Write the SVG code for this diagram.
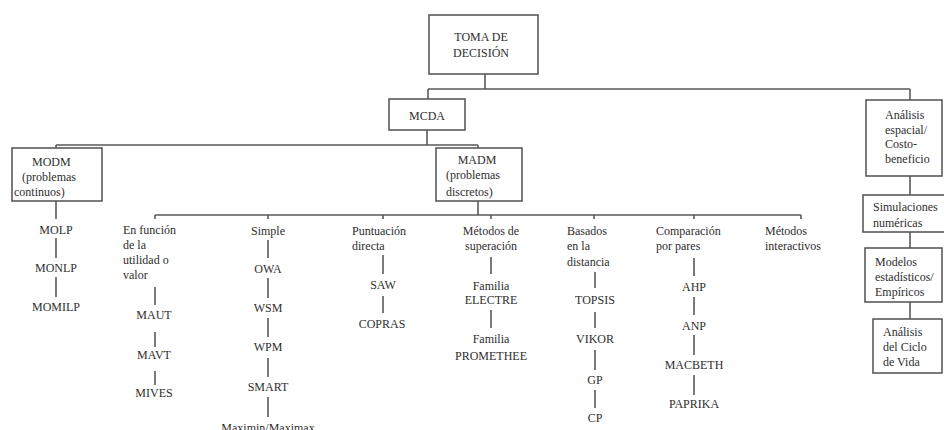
<svg xmlns="http://www.w3.org/2000/svg" width="944" height="430" viewBox="0 0 944 430">
<style>
text{font-family:"Liberation Serif","Times New Roman",serif;font-size:12px;fill:#2e2e2e}
.c{text-anchor:middle}
.box{fill:#fff;stroke:#5a5a5a;stroke-width:1.6}
.ln{fill:none;stroke:#5a5a5a;stroke-width:1.6}
</style>
<rect width="944" height="430" fill="#fff"/>
<g id="connectors" class="ln">
<path d="M485 74V89M428 89H910M428 89V99M910 89V100"/>
<path d="M427 130V145M56 145H478M56 145V148M478 145V148"/>
<path d="M478 201V215M155 215H801M155 215V219M268 215V219M383 215V219M491 215V219M594 215V219M694 215V219M801 215V219"/>
<path d="M910 176V195M910 232V248M910 302V319"/>
<path d="M56 201V219M56 238V258M56 277V297"/>
<path d="M155 287V305M155 332V347M155 371V385"/>
<path d="M268 240V258M268 278V298M268 318V337M268 358V377M268 397V417"/>
<path d="M383 255V274M383 296V313"/>
<path d="M491 257V274M491 310V328"/>
<path d="M595 272V288M595 312V328M595 350V370M595 390V408"/>
<path d="M694 258V276M694 297V315M694 335V355M694 375V395"/>
</g>
<g id="toma"><rect class="box" x="429" y="15" width="109" height="59"/><text class="c" x="481" y="41">TOMA DE</text><text class="c" x="481" y="57">DECISIÓN</text></g>
<g id="mcda"><rect class="box" x="389" y="99" width="76" height="31"/><text class="c" x="427" y="120">MCDA</text></g>
<g id="modm"><rect class="box" x="12" y="148" width="90" height="53"/><text x="32" y="166">MODM</text><text x="22" y="181">(problemas</text><text x="14" y="196">continuos)</text></g>
<g id="madm"><rect class="box" x="436" y="148" width="86" height="53"/><text class="c" x="477" y="164">MADM</text><text x="446" y="179">(problemas</text><text x="446" y="196">discretos)</text></g>
<g id="analisis"><rect class="box" x="866" y="100" width="76" height="76"/><text x="885" y="119">Análisis</text><text x="885" y="134">espacial/</text><text x="885" y="148">Costo-</text><text x="885" y="163">beneficio</text></g>
<g id="simulaciones"><rect class="box" x="863" y="195" width="90" height="37"/><text x="873" y="211">Simulaciones</text><text x="873" y="227">numéricas</text></g>
<g id="modelos"><rect class="box" x="865" y="248" width="77" height="54"/><text x="875" y="266">Modelos</text><text x="875" y="281">estadísticos/</text><text x="875" y="296">Empíricos</text></g>
<g id="ciclo"><rect class="box" x="873" y="319" width="69" height="54"/><text x="883" y="336">Análisis</text><text x="883" y="351">del Ciclo</text><text x="883" y="366">de Vida</text></g>
<g id="molp"><text class="c" x="56" y="234">MOLP</text></g>
<g id="monlp"><text class="c" x="56" y="272">MONLP</text></g>
<g id="momilp"><text class="c" x="56" y="311">MOMILP</text></g>
<g id="utilidad"><text x="123" y="234">En función</text><text x="123" y="249">de la</text><text x="123" y="264">utilidad o</text><text x="123" y="279">valor</text></g>
<g id="maut"><text class="c" x="154" y="319">MAUT</text></g>
<g id="mavt"><text class="c" x="154" y="359">MAVT</text></g>
<g id="mives"><text class="c" x="154" y="397">MIVES</text></g>
<g id="simple"><text class="c" x="268" y="235">Simple</text></g>
<g id="owa"><text class="c" x="268" y="273">OWA</text></g>
<g id="wsm"><text class="c" x="268" y="312">WSM</text></g>
<g id="wpm"><text class="c" x="268" y="351">WPM</text></g>
<g id="smart"><text class="c" x="268" y="391">SMART</text></g>
<g id="maximin"><text class="c" x="268" y="432">Maximin/Maximax</text></g>
<g id="puntuacion"><text x="352" y="235">Puntuación</text><text x="352" y="250">directa</text></g>
<g id="saw"><text class="c" x="383" y="289">SAW</text></g>
<g id="copras"><text class="c" x="382" y="328">COPRAS</text></g>
<g id="superacion"><text class="c" x="491" y="235">Métodos de</text><text class="c" x="491" y="250">superación</text></g>
<g id="electre"><text class="c" x="491" y="290">Familia</text><text class="c" x="491" y="304">ELECTRE</text></g>
<g id="promethee"><text class="c" x="491" y="343">Familia</text><text class="c" x="491" y="360">PROMETHEE</text></g>
<g id="distancia"><text x="567" y="235">Basados</text><text x="567" y="250">en la</text><text x="567" y="266">distancia</text></g>
<g id="topsis"><text class="c" x="595" y="304">TOPSIS</text></g>
<g id="vikor"><text class="c" x="595" y="343">VIKOR</text></g>
<g id="gp"><text class="c" x="595" y="384">GP</text></g>
<g id="cp"><text class="c" x="595" y="422">CP</text></g>
<g id="pares"><text x="656" y="235">Comparación</text><text x="656" y="250">por pares</text></g>
<g id="ahp"><text class="c" x="694" y="291">AHP</text></g>
<g id="anp"><text class="c" x="694" y="330">ANP</text></g>
<g id="macbeth"><text class="c" x="694" y="369">MACBETH</text></g>
<g id="paprika"><text class="c" x="694" y="408">PAPRIKA</text></g>
<g id="interactivos"><text x="765" y="235">Métodos</text><text x="765" y="250">interactivos</text></g>
</svg>
